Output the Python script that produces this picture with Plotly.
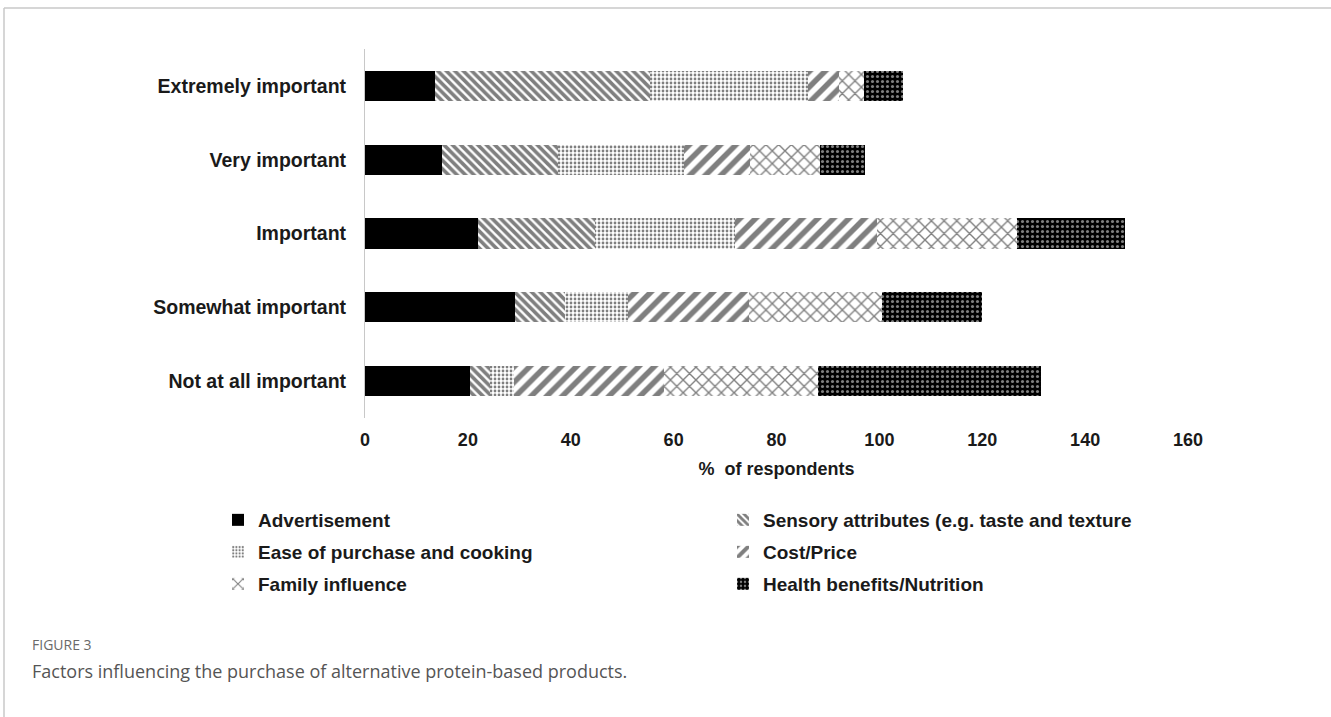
import plotly.graph_objects as go

categories = ["Extremely important", "Very important", "Important",
              "Somewhat important", "Not at all important"]

advertisement = [13.7, 15.0, 21.9, 29.1, 20.5]
sensory = [41.7, 22.6, 22.9, 9.7, 3.8]
ease = [30.8, 24.5, 27.2, 12.3, 4.6]
cost = [5.9, 12.8, 27.5, 23.6, 29.3]
family = [4.9, 13.5, 27.2, 25.9, 29.9]
health = [7.5, 8.9, 21.0, 19.3, 43.3]

series_names = ["Advertisement", "Sensory attributes (e.g. taste and texture",
                "Ease of purchase and cooking", "Cost/Price",
                "Family influence", "Health benefits/Nutrition"]
series_values = [advertisement, sensory, ease, cost, family, health]

x_ticks = [0, 20, 40, 60, 80, 100, 120, 140, 160]

patterns = [
    dict(shape=""),
    dict(shape="\\", size=6, solidity=0.6, fgcolor="black", bgcolor="white"),
    dict(shape=".", size=4, solidity=0.38, fgcolor="black", bgcolor="white"),
    dict(shape="/", size=11, solidity=0.5, fgcolor="black", bgcolor="white"),
    dict(shape="x", size=9, solidity=0.28, fgcolor="black", bgcolor="white"),
    dict(shape=".", size=5, solidity=0.3, fgcolor="white", bgcolor="black"),
]
colors = ["black", "white", "white", "white", "white", "black"]
legend_ids = ["legend", "legend", "legend2", "legend2", "legend3", "legend3"]

fig = go.Figure()
for name, vals, pat, col, lg in zip(series_names, series_values, patterns, colors, legend_ids):
    fig.add_trace(go.Bar(
        y=categories, x=vals, name=name, orientation="h", legend=lg,
        marker=dict(color=col, pattern=pat, line=dict(width=0)),
    ))

W, H = 1331, 717
L, R, T, B = 365, 143, 49, 299
pw, ph = W - L - R, H - T - B

def px(x):
    return (x - L) / pw

def py(y):
    return (H - B - y) / ph

legend_font = dict(family="Liberation Sans, Arial, sans-serif", size=19,
                   color="#1a1a1a", weight="bold")

def legend_row(ycenter):
    return dict(
        orientation="h", x=px(218), y=py(ycenter), xanchor="left", yanchor="middle",
        entrywidthmode="pixels", entrywidth=460, font=legend_font,
        traceorder="normal", itemclick=False, bgcolor="rgba(0,0,0,0)",
    )

fig.update_layout(
    width=W, height=H,
    margin=dict(l=L, r=R, t=T, b=B, autoexpand=False),
    barmode="stack", bargap=0.59,
    plot_bgcolor="white", paper_bgcolor="white",
    font=dict(family="Liberation Sans, Arial, sans-serif", color="#1a1a1a"),
    showlegend=True,
    legend=legend_row(520),
    legend2=legend_row(552),
    legend3=legend_row(584),
    xaxis=dict(
        range=[0, 160], tickvals=x_ticks, showgrid=False, zeroline=False,
        showline=False, ticks="", ticklabelstandoff=9,
        tickfont=dict(family="Liberation Sans, Arial, sans-serif",
                      size=18, weight="bold", color="#1a1a1a"),
        title=dict(text="%  of respondents", standoff=13,
                   font=dict(family="Liberation Sans, Arial, sans-serif",
                             size=18, weight="bold", color="#1a1a1a")),
    ),
    yaxis=dict(
        autorange="reversed", showgrid=False, zeroline=False,
        showline=True, linecolor="#c8c8c8", linewidth=1, ticks="",
        ticklabelstandoff=14,
        tickfont=dict(family="Liberation Sans, Arial, sans-serif", size=19.5,
                      weight="bold", color="#1a1a1a"),
    ),
    shapes=[
        dict(type="line", xref="paper", yref="paper",
             x0=px(4), x1=px(1331), y0=py(8), y1=py(8),
             line=dict(color="#c8c8c8", width=1.5)),
        dict(type="line", xref="paper", yref="paper",
             x0=px(4), x1=px(4), y0=py(8), y1=py(717),
             line=dict(color="#c8c8c8", width=1.5)),
    ],
    annotations=[
        dict(text="FIGURE 3", xref="paper", yref="paper", x=px(30), y=py(644),
             xanchor="left", yanchor="middle", showarrow=False,
             font=dict(family="Open Sans, sans-serif", size=14, color="#6a6a6a")),
        dict(text="Factors influencing the purchase of alternative protein-based products.",
             xref="paper", yref="paper", x=px(30), y=py(671),
             xanchor="left", yanchor="middle", showarrow=False,
             font=dict(family="Open Sans, sans-serif", size=18, color="#555555")),
    ],
)

fig.write_html("out.html")
